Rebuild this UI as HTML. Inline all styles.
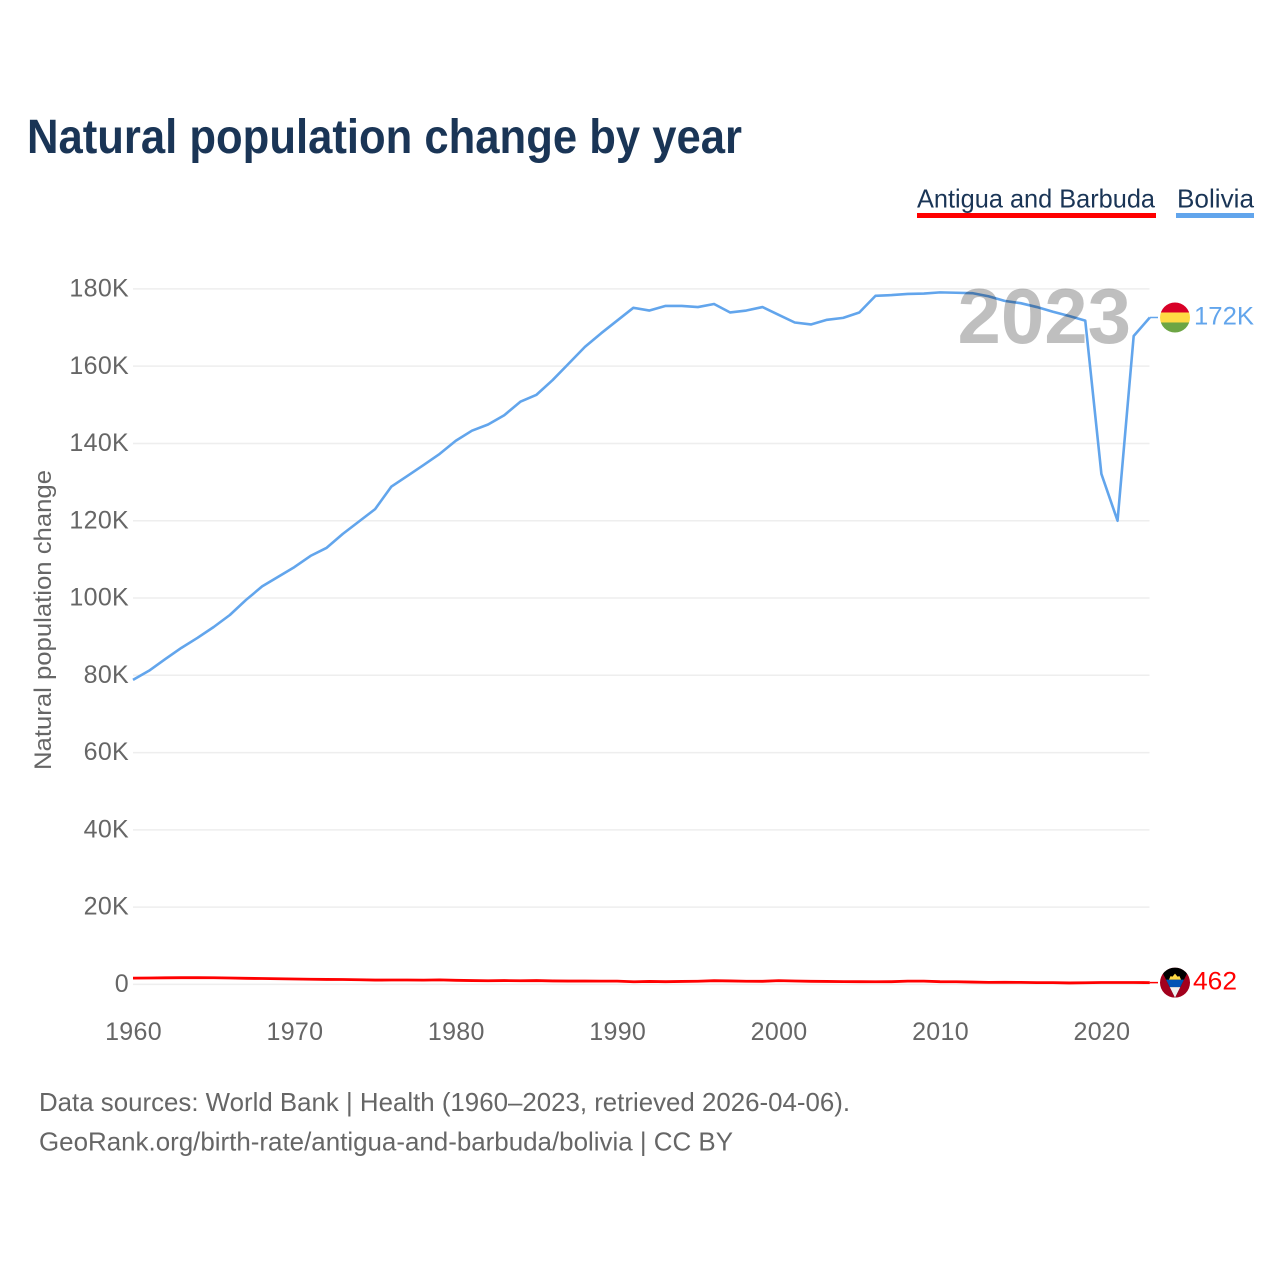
<!DOCTYPE html>
<html lang="en">
<head>
<meta charset="utf-8">
<title>Natural population change by year</title>
<style>
html,body{margin:0;padding:0;background:#fff;}
svg{display:block;font-family:"Liberation Sans",sans-serif;}
</style>
</head>
<body>
<svg id="chart" width="1280" height="1280" viewBox="0 0 1280 1280" xmlns="http://www.w3.org/2000/svg">
  <rect width="1280" height="1280" fill="#ffffff"/>
  <defs>
    <clipPath id="flag-clip-top"><circle cx="0" cy="0" r="15"/></clipPath>
  </defs>
  <text x="27" y="153" font-size="48" font-weight="700" fill="#1a3556" textLength="715" lengthAdjust="spacingAndGlyphs">Natural population change by year</text>

  <g>
    <text x="917" y="207.5" font-size="26" fill="#1a3556" textLength="238" lengthAdjust="spacingAndGlyphs">Antigua and Barbuda</text>
    <rect x="917" y="213" width="239" height="5" fill="#ff0000"/>
  </g>
  <g>
    <text x="1177" y="207.5" font-size="26" fill="#1a3556" textLength="77" lengthAdjust="spacingAndGlyphs">Bolivia</text>
    <rect x="1176" y="213" width="78" height="5" fill="#62a5ec"/>
  </g>

  <text transform="translate(51,770) rotate(-90)" font-size="24" fill="#666666" textLength="300" lengthAdjust="spacingAndGlyphs">Natural population change</text>

  <g id="grid"></g>
  <g id="yticks"></g>
  <g id="xticks"></g>
  <g id="series"></g>
  <g id="ends"></g>

  <text x="1131" y="343" text-anchor="end" font-size="78" font-weight="700" fill="#000000" fill-opacity="0.25">2023</text>

  <text x="39" y="1111" font-size="26" fill="#666666" textLength="811" lengthAdjust="spacingAndGlyphs">Data sources: World Bank | Health (1960–2023, retrieved 2026-04-06).</text>
  <text x="39" y="1150.5" font-size="26" fill="#666666" textLength="694" lengthAdjust="spacingAndGlyphs">GeoRank.org/birth-rate/antigua-and-barbuda/bolivia | CC BY</text>
</svg>
<script>
const startYear = 1960;
const yTickValues = [0, 20, 40, 60, 80, 100, 120, 140, 160, 180];
const xTickYears = [1960, 1970, 1980, 1990, 2000, 2010, 2020];
const boliviaValues = [
  78.8, 81.2, 84.2, 87.1, 89.7, 92.5, 95.6, 99.5, 103.0, 105.5,
  108.0, 110.9, 113.0, 116.6, 119.8, 123.0, 128.8, 131.6, 134.4, 137.3,
  140.7, 143.3, 144.9, 147.3, 150.8, 152.6, 156.4, 160.7, 165.0, 168.5,
  171.8, 175.1, 174.4, 175.6, 175.6, 175.3, 176.1, 173.9, 174.4, 175.3,
  173.3, 171.3, 170.8, 172.0, 172.5, 173.9, 178.2, 178.4, 178.7, 178.8,
  179.1, 179.0, 178.9, 178.1, 176.9, 176.3, 175.3, 174.1, 173.0, 171.8,
  132.1, 120.0, 167.8, 172.6
];
const antiguaValues = [
  1.62, 1.66, 1.70, 1.74, 1.74, 1.72, 1.66, 1.58, 1.52, 1.46,
  1.40, 1.34, 1.28, 1.26, 1.20, 1.12, 1.14, 1.14, 1.10, 1.18,
  1.06, 1.00, 0.94, 1.00, 0.94, 1.00, 0.90, 0.86, 0.86, 0.84,
  0.84, 0.68, 0.76, 0.70, 0.76, 0.82, 0.96, 0.90, 0.82, 0.80,
  0.98, 0.88, 0.80, 0.76, 0.72, 0.70, 0.68, 0.70, 0.84, 0.84,
  0.70, 0.68, 0.60, 0.52, 0.54, 0.52, 0.46, 0.46, 0.38, 0.42,
  0.50, 0.50, 0.50, 0.462
];

const NS = 'http://www.w3.org/2000/svg';
function xScale(year) { return 133 + (year - 1960) * 16.14; }
function yScale(v) { return 984.4 - v * 3.8639; }
function make(tag, attrs, parent, text) {
  const el = document.createElementNS(NS, tag);
  for (const k in attrs) el.setAttribute(k, attrs[k]);
  if (text !== undefined) el.textContent = text;
  parent.appendChild(el);
  return el;
}
function fmtEnd(v) { return v >= 1 ? Math.floor(v) + 'K' : String(Math.round(v * 1000)); }
function linePoints(values) {
  return values.map((v, i) => xScale(startYear + i).toFixed(2) + ',' + yScale(v).toFixed(2)).join(' ');
}

const grid = document.getElementById('grid');
const yticks = document.getElementById('yticks');
const xticks = document.getElementById('xticks');
const series = document.getElementById('series');
const ends = document.getElementById('ends');

yTickValues.forEach(function (t) {
  const y = yScale(t);
  const line = make('line', { x1: 133, x2: 1149.5, y1: y, y2: y, stroke: '#eeeeee', 'stroke-width': 1.5 }, grid);
  
  
  const label = make('text', { x: 129, y: y + 7.6, 'text-anchor': 'end', 'font-size': 25, fill: '#666666', 'letter-spacing': 0.3 }, yticks, t === 0 ? '0' : t + 'K');
  
  
});

xTickYears.forEach(function (yr) {
  const label = make('text', { x: xScale(yr) + 0.5, y: 1040, 'text-anchor': 'middle', 'font-size': 25, fill: '#666666', 'letter-spacing': 0.3 }, xticks, String(yr));
  
  
});

const boliviaLine = make('polyline', { points: linePoints(boliviaValues), fill: 'none', stroke: '#62a5ec', 'stroke-width': 2.6, 'stroke-linejoin': 'round' }, series);



const antiguaLine = make('polyline', { points: linePoints(antiguaValues), fill: 'none', stroke: '#ff0000', 'stroke-width': 2.8, 'stroke-linejoin': 'round' }, series);



const lastYear = startYear + boliviaValues.length - 1;
const endX = xScale(lastYear);
const flagX = 1175;

const boliviaEndY = yScale(boliviaValues[boliviaValues.length - 1]);
const boliviaConn = make('line', { x1: endX, x2: 1158, y1: boliviaEndY, y2: boliviaEndY, stroke: '#62a5ec', 'stroke-width': 1.5 }, ends);



const boliviaFlag = make('g', { transform: 'translate(' + flagX + ',' + boliviaEndY + ')', 'clip-path': 'url(#flag-clip-top)' }, ends);


make('rect', { x: -15, y: -15, width: 30, height: 10, fill: '#d80027' }, boliviaFlag);
make('rect', { x: -15, y: -5, width: 30, height: 10, fill: '#ffda44' }, boliviaFlag);
make('rect', { x: -15, y: 5, width: 30, height: 10, fill: '#6da544' }, boliviaFlag);

const boliviaLabel = make('text', { x: 1194, y: boliviaEndY + 7, 'font-size': 25, fill: '#62a5ec', textLength: 60, lengthAdjust: 'spacingAndGlyphs' }, ends, fmtEnd(boliviaValues[boliviaValues.length - 1]));



const antiguaEndY = yScale(antiguaValues[antiguaValues.length - 1]);
const antiguaConn = make('line', { x1: endX, x2: 1158, y1: antiguaEndY, y2: antiguaEndY, stroke: '#ff0000', 'stroke-width': 1.5 }, ends);



const antiguaFlag = make('g', { transform: 'translate(' + flagX + ',' + antiguaEndY + ')', 'clip-path': 'url(#flag-clip-top)' }, ends);


make('rect', { x: -15, y: -15, width: 30, height: 30, fill: '#a2001d' }, antiguaFlag);
make('polygon', { points: '-15,-15 15,-15 0,15', fill: '#000000' }, antiguaFlag);
make('polygon', { points: '-9,-3 9,-3 5.25,4.5 -5.25,4.5', fill: '#0052b4' }, antiguaFlag);
make('polygon', { points: '-5.25,4.5 5.25,4.5 0,15', fill: '#f0f0f0' }, antiguaFlag);
make('polygon', { points: '-6,-3 -4.5,-6.5 -2.5,-6 0,-9 2.5,-6 4.5,-6.5 6,-3', fill: '#ffda44' }, antiguaFlag);

const antiguaLabel = make('text', { x: 1193, y: antiguaEndY + 7, 'font-size': 25, fill: '#ff0000', textLength: 44, lengthAdjust: 'spacingAndGlyphs' }, ends, fmtEnd(antiguaValues[antiguaValues.length - 1]));


</script>
</body>
</html>
